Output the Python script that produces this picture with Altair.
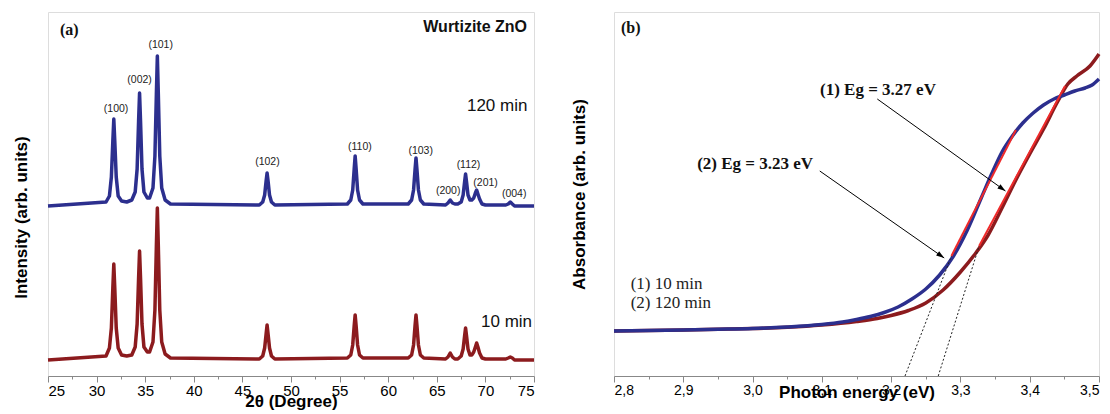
import altair as alt
import pandas as pd

# ---------------- panel (a): XRD patterns ----------------
two_theta = [25.0,
             30.97, 31.32, 31.52, 31.67, 31.77, 31.87, 32.02, 32.22, 32.57,
             33.1,
             33.62, 33.97, 34.17, 34.32, 34.42, 34.52, 34.67, 34.87, 35.22,
             35.45, 35.8, 36.0, 36.15, 36.25, 36.35, 36.5, 36.7, 37.05, 37.6,
             46.74, 47.09, 47.29, 47.44, 47.54, 47.64, 47.79, 47.99, 48.34,
             55.8, 56.15, 56.35, 56.5, 56.6, 56.7, 56.85, 57.05, 57.4,
             62.06, 62.41, 62.61, 62.76, 62.86, 62.96, 63.11, 63.31, 63.66,
             65.9, 66.15, 66.38, 66.61, 66.86,
             67.16, 67.51, 67.71, 67.86, 67.96, 68.06, 68.21, 68.41,
             68.6,
             68.8, 68.97, 69.1, 69.23, 69.4, 69.65, 70.0,
             72.1, 72.35, 72.56, 72.77, 73.0,
             75.0]

xrd_120min = [170,
              174, 180, 199, 235, 257, 235, 199, 180, 175,
              174,
              176, 184, 207, 255, 283, 255, 207, 184, 178,
              178, 188, 220, 282, 320, 282, 220, 188, 176, 172,
              171, 174, 181, 195, 203, 195, 181, 174, 171,
              172, 176, 186, 207, 220, 207, 186, 176, 172,
              172, 176, 186, 206, 218, 206, 186, 176, 172,
              171, 173, 176, 173, 172,
              172, 174, 181, 194, 202, 194, 181, 176,
              176,
              178, 183, 186, 182, 177, 172, 171,
              171, 172, 174, 172, 170,
              170]

xrd_10min = [16,
             20, 28, 48, 88, 112, 88, 48, 28, 21,
             20,
             21, 29, 52, 98, 125, 98, 52, 29, 24,
             24, 34, 66, 130, 168, 130, 66, 34, 22, 18,
             17, 20, 28, 42, 51, 42, 28, 20, 17,
             18, 21, 31, 50, 61, 50, 31, 21, 18,
             18, 21, 31, 50, 61, 50, 31, 21, 18,
             17, 19, 23, 19, 17,
             17, 20, 27, 40, 48, 40, 27, 21,
             21,
             24, 29, 33, 29, 23, 18, 17,
             17, 18, 19, 18, 16,
             16]

hkl_labels = ["(100)", "(002)", "(101)", "(102)", "(110)", "(103)",
              "(200)", "(112)", "(201)", "(004)"]
hkl_x = [32.0, 34.42, 36.59, 47.57, 57.09, 63.34, 66.17, 68.26, 70.02, 72.96]
hkl_y = [267, 296, 331, 214, 229, 225, 185, 211, 193, 182]

ticks_a = [25, 27.5, 30, 32.5, 35, 37.5, 40, 42.5, 45, 47.5, 50, 52.5,
           55, 57.5, 60, 62.5, 65, 67.5, 70, 72.5, 75]

# ---------------- panel (b): absorbance ----------------
energy_120min = [2.80, 2.85, 2.90, 2.95, 3.00, 3.05, 3.10, 3.13, 3.15, 3.17,
                 3.19, 3.21, 3.23, 3.25, 3.27, 3.29, 3.31, 3.33, 3.345, 3.36,
                 3.375, 3.39, 3.405, 3.42, 3.435, 3.45, 3.465, 3.48, 3.49, 3.50]
abs_120min = [45, 45.5, 46, 46.7, 47.5, 49, 51.5, 54, 56.5, 59.5,
              63.5, 69, 77, 87, 101, 120, 146, 178, 202, 224,
              240, 253, 263, 271, 277, 281, 285, 288, 291, 297]

energy_10min = [2.80, 2.85, 2.90, 2.95, 3.00, 3.05, 3.10, 3.15, 3.18, 3.20,
                3.225, 3.25, 3.275, 3.30, 3.32, 3.34, 3.36, 3.38, 3.40, 3.42,
                3.44, 3.455, 3.468, 3.487, 3.50]
abs_10min = [45, 45.5, 46, 46.7, 47.5, 48.8, 51, 54.5, 57.5, 60.5,
             65.5, 73, 86, 104, 121, 141, 168, 196, 222, 247,
             274, 292, 300, 310, 322]

# tangent (fit) lines: axis intercept, end of dotted part, end of red part
tan_120_e = [3.22, 3.287, 3.38]
tan_120_a = [0, 120, 246]
tan_10_e = [3.268, 3.327, 3.451]
tan_10_a = [0, 130, 290]

# arrows: start and tip
arrow_e0 = [3.180, 3.097]
arrow_a0 = [277, 205]
arrow_e1 = [3.365, 3.2766]
arrow_a1 = [185, 118]
arrow_angle = [125.7, 125.0]

ticks_b = [2.8, 2.85, 2.9, 2.95, 3.0, 3.05, 3.1, 3.15, 3.2, 3.25, 3.3,
           3.35, 3.4, 3.45, 3.5]

BLUE = "#2c2f8e"
RED = "#8c1b1e"
BRIGHT = "#ee2a2a"
SANS = "Liberation Sans"
SERIF = "Liberation Serif"

W, H = 486, 364

# ---------- panel (a) ----------
xs_a = alt.Scale(domain=[25, 75], nice=False, zero=False)
ys_a = alt.Scale(domain=[0, 364], nice=False, zero=False)
xaxis_a = alt.Axis(values=ticks_a, title="2θ (Degree)",
                   labelExpr="datum.value % 5 === 0 ? datum.label : ''",
                   tickSize={"condition": {"test": "datum.value % 5 === 0", "value": 6}, "value": 3},
                   labelPadding=1, labelFontSize=15, titleFontSize=17,
                   titleY=17, titleBaseline="top", grid=False)
yaxis_a = alt.Axis(title="Intensity (arb. units)", labels=False, ticks=False,
                   domain=False, grid=False, titleFontSize=17,
                   titleX=-27, titleY=205, titleAngle=-90,
                   titleBaseline="middle", titleAlign="center")


def enc_a(ch):
    return ch.encode(x=alt.X("x:Q", scale=xs_a, axis=xaxis_a),
                     y=alt.Y("y:Q", scale=ys_a, axis=yaxis_a))


df_b120 = pd.DataFrame({"x": two_theta, "y": xrd_120min})
df_b10 = pd.DataFrame({"x": two_theta, "y": xrd_10min})
df_hkl = pd.DataFrame({"x": hkl_x, "y": hkl_y, "t": hkl_labels})

l_10 = enc_a(alt.Chart(df_b10).mark_line(color=RED, strokeWidth=3.5, strokeJoin="round"))
l_120 = enc_a(alt.Chart(df_b120).mark_line(color=BLUE, strokeWidth=3.5, strokeJoin="round"))
t_hkl = enc_a(alt.Chart(df_hkl).mark_text(font=SANS, fontSize=10.5, color="#222",
                                          baseline="middle", align="center")).encode(text="t:N")

df_lab_a = pd.DataFrame({"x": [68.1, 69.55], "y": [270, 54], "t": ["120 min", "10 min"]})
t_min = enc_a(alt.Chart(df_lab_a).mark_text(font=SANS, fontSize=17, color="#111",
                                            baseline="middle", align="left")).encode(text="t:N")
df_title_a = pd.DataFrame({"x": [74.28], "y": [349], "t": ["Wurtizite ZnO"]})
t_wz = enc_a(alt.Chart(df_title_a).mark_text(font=SANS, fontSize=16, fontWeight="bold",
                                             color="#111", baseline="middle", align="right")).encode(text="t:N")
df_pa = pd.DataFrame({"x": [26.23], "y": [346], "t": ["(a)"]})
t_pa = enc_a(alt.Chart(df_pa).mark_text(font=SERIF, fontSize=16, fontWeight="bold",
                                        color="#111", baseline="middle", align="left")).encode(text="t:N")

panel_a = alt.layer(l_10, l_120, t_hkl, t_min, t_wz, t_pa).properties(width=W, height=H)

# ---------- panel (b) ----------
xs_b = alt.Scale(domain=[2.8, 3.5], nice=False, zero=False)
ys_b = alt.Scale(domain=[0, 364], nice=False, zero=False)
xaxis_b = alt.Axis(values=ticks_b, title="Photon energy (eV)",
                   labelExpr="round(datum.value * 100) % 10 === 0 ? replace(format(datum.value, '.1f'), '.', ',') : ''",
                   tickSize={"condition": {"test": "round(datum.value * 100) % 10 === 0", "value": 6}, "value": 3},
                   labelPadding=1, labelFontSize=14, titleFontSize=17,
                   titleY=8, titleBaseline="top", grid=False)
yaxis_b = alt.Axis(title="Absorbance (arb. units)", labels=False, ticks=False,
                   domain=False, grid=False, titleFontSize=17,
                   titleX=-35, titleY=182, titleAngle=-90,
                   titleBaseline="middle", titleAlign="center")


def enc_b(ch):
    return ch.encode(x=alt.X("x:Q", scale=xs_b, axis=xaxis_b),
                     y=alt.Y("y:Q", scale=ys_b, axis=yaxis_b))


df_u10 = pd.DataFrame({"x": energy_10min, "y": abs_10min})
df_u120 = pd.DataFrame({"x": energy_120min, "y": abs_120min})
c_10 = enc_b(alt.Chart(df_u10).mark_line(color=RED, strokeWidth=3.5, strokeJoin="round",
                                         interpolate="monotone"))
c_120 = enc_b(alt.Chart(df_u120).mark_line(color=BLUE, strokeWidth=3.5, strokeJoin="round",
                                           interpolate="monotone"))

df_dot = pd.DataFrame({"x": tan_120_e[:2] + tan_10_e[:2],
                       "y": tan_120_a[:2] + tan_10_a[:2],
                       "g": ["a", "a", "b", "b"]})
df_fit = pd.DataFrame({"x": tan_120_e[1:] + tan_10_e[1:],
                       "y": tan_120_a[1:] + tan_10_a[1:],
                       "g": ["a", "a", "b", "b"]})
dots = enc_b(alt.Chart(df_dot).mark_line(color="#222", strokeWidth=1,
                                         strokeDash=[2, 2])).encode(detail="g:N")
fits = enc_b(alt.Chart(df_fit).mark_line(color=BRIGHT, strokeWidth=2)).encode(detail="g:N")

df_arrow = pd.DataFrame({"x": arrow_e0, "y": arrow_a0, "x2": arrow_e1, "y2": arrow_a1,
                         "ang": arrow_angle})
arr_line = enc_b(alt.Chart(df_arrow).mark_rule(color="black", strokeWidth=1)).encode(
    x2="x2:Q", y2="y2:Q")
arr_head = alt.Chart(df_arrow).mark_point(
    shape="M0,0L-0.33,1L0.33,1Z", filled=True, color="black", size=260, opacity=1
).encode(x=alt.X("x2:Q", scale=xs_b, axis=xaxis_b),
         y=alt.Y("y2:Q", scale=ys_b, axis=yaxis_b),
         angle=alt.Angle("ang:Q", scale=None))

df_eg = pd.DataFrame({"x": [3.0973, 2.920], "y": [286, 212],
                      "t": ["(1) Eg = 3.27 eV", "(2) Eg = 3.23 eV"]})
t_eg = enc_b(alt.Chart(df_eg).mark_text(font=SERIF, fontSize=17, fontWeight="bold",
                                        color="#111", baseline="middle", align="left")).encode(text="t:N")
df_leg = pd.DataFrame({"x": [2.824, 2.824], "y": [92, 73],
                       "t": ["(1) 10 min", "(2) 120 min"]})
t_leg = enc_b(alt.Chart(df_leg).mark_text(font=SERIF, fontSize=17, color="#222",
                                          baseline="middle", align="left")).encode(text="t:N")
df_pb = pd.DataFrame({"x": [2.810], "y": [348], "t": ["(b)"]})
t_pb = enc_b(alt.Chart(df_pb).mark_text(font=SERIF, fontSize=16, fontWeight="bold",
                                        color="#111", baseline="middle", align="left")).encode(text="t:N")

panel_b = alt.layer(c_10, c_120, dots, fits, arr_line, arr_head, t_eg, t_leg, t_pb).properties(
    width=485, height=H)

chart = alt.hconcat(panel_a, panel_b, spacing=32).properties(
    padding={"left": 3, "top": 3, "right": 0, "bottom": 0}
).configure_view(stroke="black", strokeWidth=1.5).configure_axis(
    domainColor="black", domainWidth=1.5, tickColor="black", tickWidth=1.2,
    labelFont=SANS, labelColor="#222", titleFont=SANS, titleFontWeight="bold",
    titleColor="#111"
).configure(background="white")

chart.save("out.html", embed_options={"renderer": "svg", "actions": False})
